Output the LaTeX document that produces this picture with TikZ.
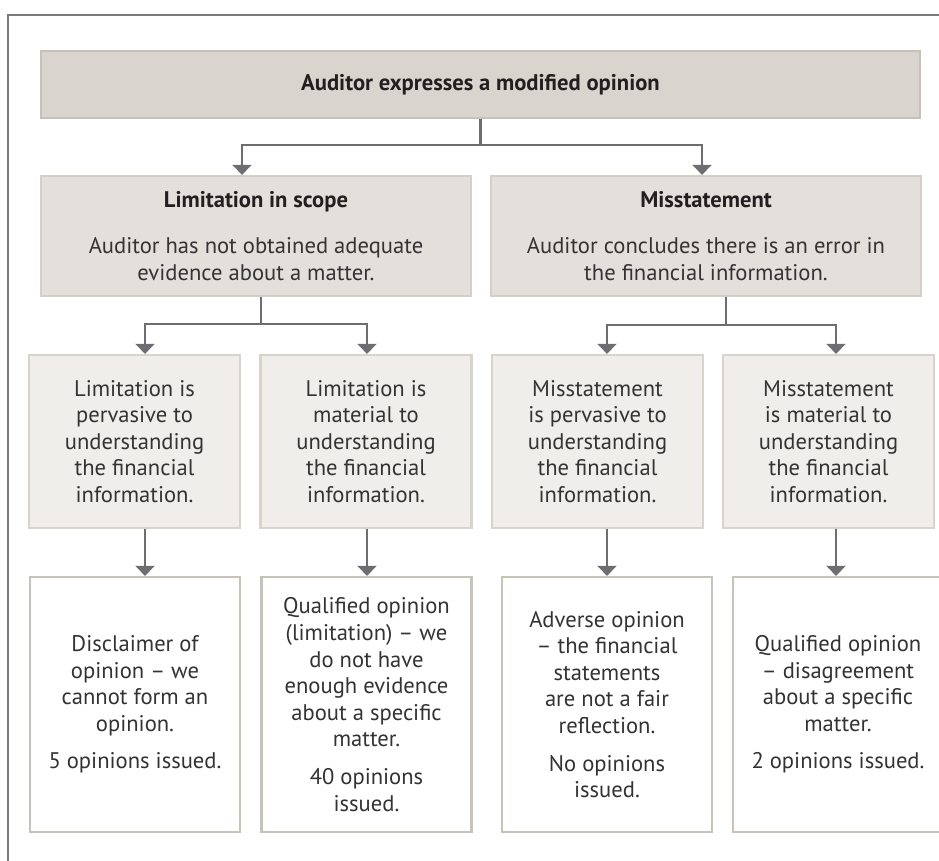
\documentclass[tikz,border=0pt]{standalone}
\usepackage{fontspec}
\setmainfont{PT Sans}
\usetikzlibrary{arrows.meta}
\definecolor{ink}{RGB}{35,31,32}
\definecolor{body}{RGB}{51,51,51}
\definecolor{arrowgrey}{RGB}{109,110,113}
\definecolor{framegrey}{RGB}{122,122,122}
\definecolor{headfill}{RGB}{217,212,206}
\definecolor{headrule}{RGB}{199,193,183}
\definecolor{casefill}{RGB}{227,224,219}
\definecolor{caserule}{RGB}{212,207,199}
\definecolor{testfill}{RGB}{240,238,234}
\definecolor{testrule}{RGB}{216,212,204}
\definecolor{outrule}{RGB}{200,195,184}

\begin{document}
\begin{tikzpicture}[
  x=1pt, y=-1pt,
  font=\fontsize{22.6}{26.6}\selectfont, text=body,
  >={Triangle[width=19pt,length=10pt]},
  head/.style={draw=headrule, fill=headfill, line width=2.3pt, align=center, text=ink, minimum width=879pt, minimum height=67pt},
  case/.style={draw=caserule, fill=casefill, line width=2.3pt, align=center, minimum width=430pt, minimum height=120pt},
  test/.style={draw=testrule, fill=testfill, line width=2.3pt, align=center, minimum width=211pt, minimum height=173pt},
  outcome/.style={draw=outrule, fill=white, line width=2.3pt, align=center, minimum width=210pt, minimum height=255pt},
  flow/.style={->, line width=2.6pt, draw=arrowgrey},
  link/.style={line width=2.6pt, draw=arrowgrey},
]
\useasboundingbox (0,0) rectangle (939,861);
% ---------------------------------------------------------------- frame
\draw[framegrey, line width=1.5pt] (8,861) -- (8,15) -- (939,15);

% ---------------------------------------------------------------- nodes
\node[head] (modified) at (480.5,84.5) {\textbf{Auditor expresses a modified opinion}};

\node[case] (scope) at (256,236) {\textcolor{ink}{\textbf{Limitation in scope}}\\[20pt]
  Auditor has not obtained adequate\\evidence about a matter.};
\node[case] (misstate) at (706,236) {\textcolor{ink}{\textbf{Misstatement}}\\[20pt]
  Auditor concludes there is an error in\\the financial information.};

\node[test] (scopepv) at (134.5,441.5) {Limitation is\\pervasive to\\understanding\\the financial\\information.};
\node[test] (scopemt) at (366,441.5) {Limitation is\\material to\\understanding\\the financial\\information.};
\node[test] (misspv) at (597.5,441.5) {Misstatement\\is pervasive to\\understanding\\the financial\\information.};
\node[test] (missmt) at (828.5,441.5) {Misstatement\\is material to\\understanding\\the financial\\information.};

\node[outcome] (disclaimer) at (135,704.5) {Disclaimer of\\opinion -- we\\cannot form an\\opinion.\\[11pt]5 opinions issued.};
\node[outcome] (qualscope) at (366.5,704.5) {Qualified opinion\\(limitation) -- we\\do not have\\enough evidence\\about a specific\\matter.\\[11pt]40 opinions\\issued.};
\node[outcome] (adverse) at (607,704.5) {Adverse opinion\\-- the financial\\statements\\are not a fair\\reflection.\\[11pt]No opinions\\issued.};
\node[outcome] (qualmiss) at (838,704.5) {Qualified opinion\\-- disagreement\\about a specific\\matter.\\[11pt]2 opinions issued.};

% ---------------------------------------------------------------- edges
\coordinate (split) at (modified.south |- 0,145);
\draw[link] (modified.south) -- (split);
\draw[flow] (split) -| ([xshift=-14pt]scope.north);
\draw[flow] (split) -| ([xshift=-4pt]misstate.north);

\draw[link] ([xshift=5pt]scope.south) -- ++(0,27) coordinate (scopesplit);
\draw[flow] (scopesplit) -| ([xshift=10.5pt]scopepv.north);
\draw[flow] (scopesplit) -| ([xshift=1pt]scopemt.north);

\draw[link] ([xshift=20pt]misstate.south) -- ++(0,28) coordinate (misssplit);
\draw[flow] (misssplit) -| ([xshift=9.5pt]misspv.north);
\draw[flow] (misssplit) -| ([xshift=7.5pt]missmt.north);

\draw[flow] ([xshift=10.5pt]scopepv.south) -- ([xshift=10pt]disclaimer.north);
\draw[flow] ([xshift=1pt]scopemt.south) -- ([xshift=0.5pt]qualscope.north);
\draw[flow] ([xshift=9.5pt]misspv.south) -- (adverse.north);
\draw[flow] ([xshift=7.5pt]missmt.south) -- ([xshift=-2pt]qualmiss.north);
\end{tikzpicture}
\end{document}
